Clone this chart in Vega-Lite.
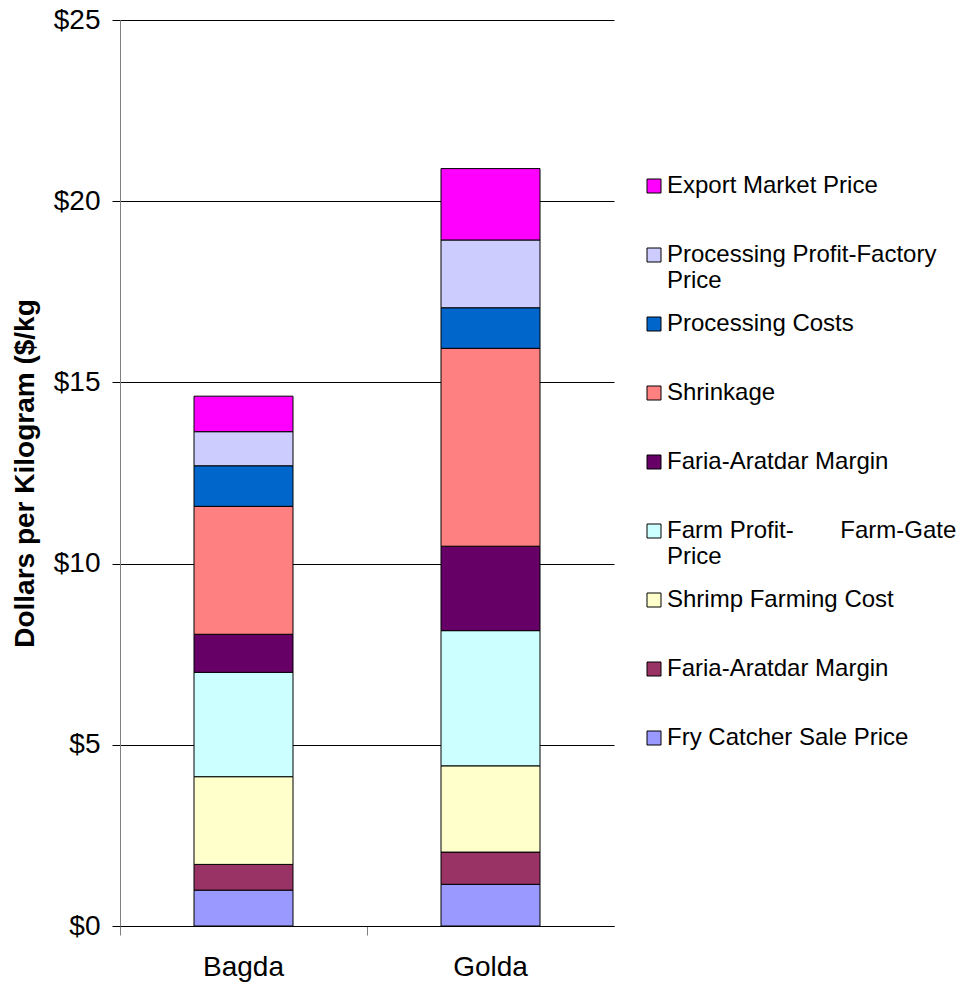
{
  "$schema": "https://vega.github.io/schema/vega-lite/v6.json",
  "width": 494,
  "height": 906,
  "autosize": {"type": "none"},
  "padding": {"left": 120, "top": 20, "right": 350, "bottom": 57},
  "background": "white",
  "config": {"view": {"stroke": null}, "font": "Liberation Sans"},
  "data": {
    "values": [
      {"shrimp": "Bagda", "series": "Fry Catcher Sale Price", "k": 1, "value": 0.99},
      {"shrimp": "Bagda", "series": "Faria-Aratdar Margin (fry)", "k": 2, "value": 0.71},
      {"shrimp": "Bagda", "series": "Shrimp Farming Cost", "k": 3, "value": 2.42},
      {"shrimp": "Bagda", "series": "Farm Profit- Farm-Gate Price", "k": 4, "value": 2.88},
      {"shrimp": "Bagda", "series": "Faria-Aratdar Margin (shrimp)", "k": 5, "value": 1.05},
      {"shrimp": "Bagda", "series": "Shrinkage", "k": 6, "value": 3.53},
      {"shrimp": "Bagda", "series": "Processing Costs", "k": 7, "value": 1.12},
      {"shrimp": "Bagda", "series": "Processing Profit-Factory Price", "k": 8, "value": 0.94},
      {"shrimp": "Bagda", "series": "Export Market Price", "k": 9, "value": 0.98},
      {"shrimp": "Golda", "series": "Fry Catcher Sale Price", "k": 1, "value": 1.15},
      {"shrimp": "Golda", "series": "Faria-Aratdar Margin (fry)", "k": 2, "value": 0.89},
      {"shrimp": "Golda", "series": "Shrimp Farming Cost", "k": 3, "value": 2.38},
      {"shrimp": "Golda", "series": "Farm Profit- Farm-Gate Price", "k": 4, "value": 3.73},
      {"shrimp": "Golda", "series": "Faria-Aratdar Margin (shrimp)", "k": 5, "value": 2.33},
      {"shrimp": "Golda", "series": "Shrinkage", "k": 6, "value": 5.46},
      {"shrimp": "Golda", "series": "Processing Costs", "k": 7, "value": 1.12},
      {"shrimp": "Golda", "series": "Processing Profit-Factory Price", "k": 8, "value": 1.87},
      {"shrimp": "Golda", "series": "Export Market Price", "k": 9, "value": 1.97}
    ]
  },
  "mark": {"type": "bar", "size": 99, "stroke": "black", "strokeWidth": 1},
  "encoding": {
    "x": {
      "field": "shrimp",
      "type": "nominal",
      "sort": ["Bagda", "Golda"],
      "scale": {"paddingInner": 0, "paddingOuter": 0},
      "axis": {
        "title": null,
        "labelAngle": 0,
        "labelFontSize": 28,
        "labelColor": "black",
        "labelPadding": 18,
        "tickSize": 9,
        "tickColor": "#808080",
        "bandPosition": 0,
        "domainColor": "black",
        "grid": false
      }
    },
    "y": {
      "field": "value",
      "type": "quantitative",
      "stack": "zero",
      "scale": {"domain": [0, 25], "nice": false},
      "axis": {
        "title": "Dollars per Kilogram ($/kg",
        "titleFontSize": 28,
        "titleFontWeight": "bold",
        "titleColor": "black",
        "titlePadding": 14,
        "values": [0, 5, 10, 15, 20, 25],
        "format": "$.0f",
        "labelFontSize": 28,
        "labelColor": "black",
        "labelPadding": 12,
        "tickSize": 8,
        "tickColor": "black",
        "domainColor": "#808080",
        "grid": true,
        "gridColor": "black",
        "gridWidth": 1,
        "gridOpacity": 1
      }
    },
    "color": {
      "field": "series",
      "type": "nominal",
      "scale": {
        "domain": ["Export Market Price", "Processing Profit-Factory Price", "Processing Costs", "Shrinkage", "Faria-Aratdar Margin (shrimp)", "Farm Profit- Farm-Gate Price", "Shrimp Farming Cost", "Faria-Aratdar Margin (fry)", "Fry Catcher Sale Price"],
        "range": ["#FF00FF", "#CCCCFF", "#0066CC", "#FF8080", "#660066", "#CCFFFF", "#FFFFCC", "#993366", "#9999FF"]
      },
      "legend": {
        "orient": "none",
        "legendX": 522,
        "legendY": 154,
        "title": null,
        "padding": 0,
        "symbolType": "square",
        "symbolSize": 196,
        "symbolStrokeColor": "black",
        "symbolStrokeWidth": 1,
        "labelFontSize": 24,
        "labelColor": "black",
        "labelOffset": 1,
        "labelLimit": 400,
        "rowPadding": 19,
        "gridAlign": "all",
        "labelExpr": "datum.label == 'Processing Profit-Factory Price' ? ['Processing Profit-Factory', 'Price'] : datum.label == 'Farm Profit- Farm-Gate Price' ? ['Farm Profit-\u00a0\u00a0\u00a0\u00a0\u00a0\u00a0\u00a0Farm-Gate', 'Price'] : indexof(datum.label, 'Faria') == 0 ? 'Faria-Aratdar Margin' : datum.label"
      }
    },
    "order": {"field": "k", "type": "quantitative"}
  }
}
